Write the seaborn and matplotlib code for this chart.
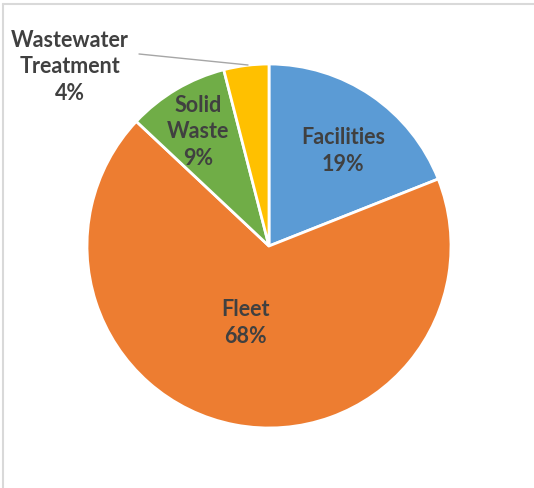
import matplotlib.pyplot as plt
import seaborn as sns

# data
sectores = ["Facilities", "Fleet", "Solid\nWaste", "Wastewater\nTreatment"]
valores = [19, 68, 9, 4]
colores = ["#5B9BD5", "#ED7D31", "#70AD47", "#FFC000"]

sns.set_theme(style="white")
plt.rcParams['font.family'] = ['Lato', 'DejaVu Sans']

fig = plt.figure(figsize=(5.34, 4.89), dpi=100)
ax = fig.add_axes([0, 0, 1, 1])

cx, cy, r = 269, 489 - 247, 182
ax.pie(valores, colors=colores, startangle=90, counterclock=False,
       center=(cx, cy), radius=r, frame=True,
       wedgeprops={'edgecolor': 'white', 'linewidth': 2})
ax.set_xlim(0, 534)
ax.set_ylim(0, 489)
ax.set_aspect('equal')
ax.axis('off')

# etiquetas
posiciones = [(343, 151), (245, 323), (198, 132), (70, 67)]
for nombre, v, (x, y) in zip(sectores, valores, posiciones):
    ax.text(x, 489 - y, f"{nombre}\n{v}%", ha='center', va='center',
            fontsize=15.5, fontweight='bold', color='#404040', linespacing=1.3)

# linea guia del sector pequeno
ax.plot([139, 248], [489 - 55, 489 - 66], color='#A6A6A6', lw=1)

# marco
ax.plot([3, 534], [484, 484], color='#D9D9D9', lw=1.5)
ax.plot([3, 3], [0, 484], color='#D9D9D9', lw=1.5)

plt.savefig("out.png", dpi=100)
